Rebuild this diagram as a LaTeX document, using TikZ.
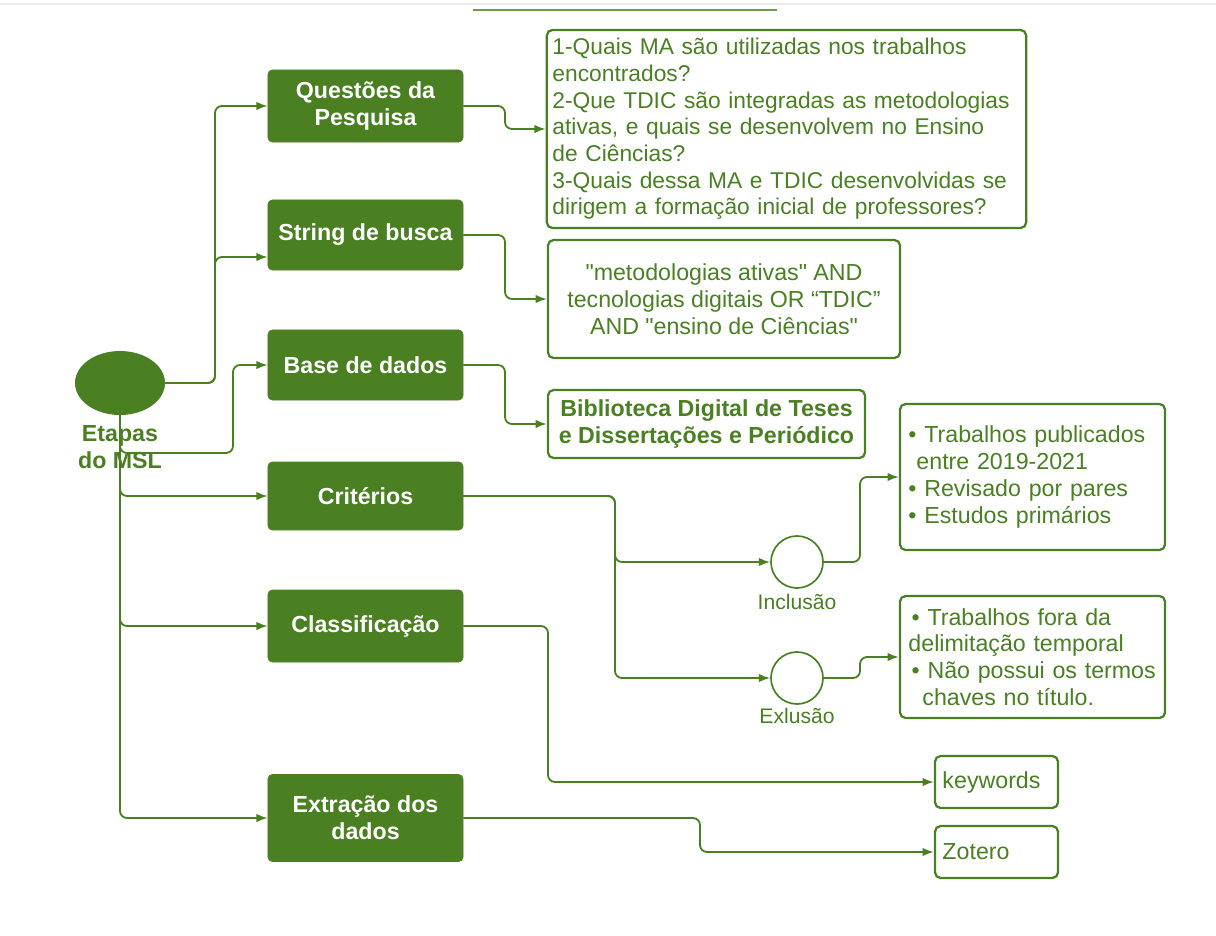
\documentclass[tikz,border=0pt]{standalone}
\usepackage{fontspec}
\setmainfont{Liberation Sans}[Ligatures=TeXOff]
\usetikzlibrary{arrows.meta,shapes.geometric}
\definecolor{msl}{RGB}{74,128,34}
\tikzset{
  txt/.style={font=\fontsize{16.5}{19}\selectfont},
  stage/.style={fill=msl, draw=msl, rounded corners=3pt, text=white,
    font=\fontsize{16.5}{19}\selectfont\bfseries, align=center,
    minimum width=4.875cm},
  info/.style={txt, draw=msl, line width=1.6pt, rounded corners=4pt,
    text=msl, inner ysep=2pt, inner xsep=5pt},
  gate/.style={circle, draw=msl, line width=1.2pt, minimum size=1.3cm},
  conn/.style={draw=msl, line width=1.3pt, rounded corners=5pt,
    -{Latex[length=8pt,width=6pt]}}
}
\begin{document}
\begin{tikzpicture}[x=0.025cm, y=-0.025cm]
  \useasboundingbox (0,0) rectangle (1216,935);
  \fill[white] (0,0) rectangle (1216,935);
  \draw[black!8, line width=2pt] (0,4) -- (1216,4);
  \draw[msl!80, line width=1.5pt] (473,10) -- (777,10);

  % etapas
  \node[ellipse, fill=msl, minimum width=2.25cm, minimum height=1.6cm, inner sep=0pt] (ell) at (120,383) {};
  \node[text=msl, font=\fontsize{16.5}{19}\selectfont\bfseries, align=center] (lbl) at (120,447) {Etapas\\do MSL};

  \node[stage, minimum height=1.8cm] (quest) at (365.5,106) {Questões da\\Pesquisa};
  \node[stage, minimum height=1.75cm] (string) at (365.5,235) {String de busca};
  \node[stage, minimum height=1.75cm] (base) at (365.5,365) {Base de dados};
  \node[stage, minimum height=1.7cm] (crit) at (365.5,496) {Critérios};
  \node[stage, minimum height=1.8cm] (class) at (365.5,626) {Classificação};
  \node[stage, minimum height=2.175cm] (extr) at (365.5,818) {Extração dos\\dados};

  \node[info, minimum width=11.925cm, minimum height=4.95cm, inner xsep=4pt, text width=11.7cm, align=left,
    font=\fontsize{16.2}{19}\selectfont] (qbox) at (786.5,129)
    {1-Quais MA são utilizadas nos trabalhos\\
     encontrados?\\
     2-Que TDIC são integradas as metodologias\\
     ativas, e quais se desenvolvem no Ensino\\
     de Ciências?\\
     3-Quais dessa MA e TDIC desenvolvidas se\\
     dirigem a formação inicial de professores?};
  \node[info, minimum width=8.8cm, minimum height=2.95cm, align=center] (sbox) at (724,299)
    {"metodologias ativas" AND\\
     tecnologias digitais OR “TDIC”\\
     AND "ensino de Ciências"};
  \node[info, minimum width=7.925cm, minimum height=1.7cm, align=center,
    font=\fontsize{16.5}{19}\selectfont\bfseries] (bbox) at (706.5,424)
    {Biblioteca Digital de Teses\\e Dissertações e Periódico};

  \node[gate] (inc) at (797,562) {};
  \node[text=msl, font=\fontsize{15}{18}\selectfont] (inclbl) at (797,602) {Inclusão};
  \node[gate] (exc) at (797,678) {};
  \node[text=msl, font=\fontsize{15}{18}\selectfont] (exclbl) at (797,716) {Exlusão};

  \node[info, minimum width=6.625cm, minimum height=3.65cm, text width=6.2cm, align=left] (ibox) at (1032.5,477)
    {• Trabalhos publicados\\
     \hspace*{0.2cm}entre 2019-2021\\
     • Revisado por pares\\
     • Estudos primários};
  \node[info, minimum width=6.625cm, minimum height=3.05cm, text width=6.2cm, align=left] (ebox) at (1032.5,657)
    {\hspace*{0.08cm}• Trabalhos fora da\\
     delimitação temporal\\
     \hspace*{0.08cm}• Não possui os termos\\
     \hspace*{0.35cm}chaves no título.};
  \node[info, minimum width=3.075cm, minimum height=1.3cm, inner xsep=3.5pt, text width=2.7cm, align=left] (kbox) at (996.5,782) {keywords};
  \node[info, minimum width=3.075cm, minimum height=1.3cm, inner xsep=3.5pt, text width=2.7cm, align=left] (zbox) at (996.5,852) {Zotero};

  % ligacoes
  \draw[conn] (ell.east) -- (215,383) |- (quest.west);
  \draw[conn] (ell.east) -- (215,383) |- ([yshift=-0.55cm]string.west);
  \draw[conn] (ell.south) |- (233,453) |- (base.west);
  \draw[conn] (ell.south) |- (crit.west);
  \draw[conn] (ell.south) |- (class.west);
  \draw[conn] (ell.south) |- (extr.west);

  \draw[conn] (quest.east) -- (505,106) |- (qbox.west);
  \draw[conn] (string.east) -- (505,235) |- (sbox.west);
  \draw[conn] (base.east) -- (505,365) |- (bbox.west);
  \draw[conn] (crit.east) -- (615,496) |- (inc.west);
  \draw[conn] (crit.east) -- (615,496) |- (exc.west);
  \draw[conn] (inc.east) -- (860,562) |- (ibox.west);
  \draw[conn] (exc.east) -- (860,678) |- (ebox.west);
  \draw[conn] (class.east) -- (548,626) |- (kbox.west);
  \draw[conn] (extr.east) -- (700,818) |- (zbox.west);
\end{tikzpicture}
\end{document}
